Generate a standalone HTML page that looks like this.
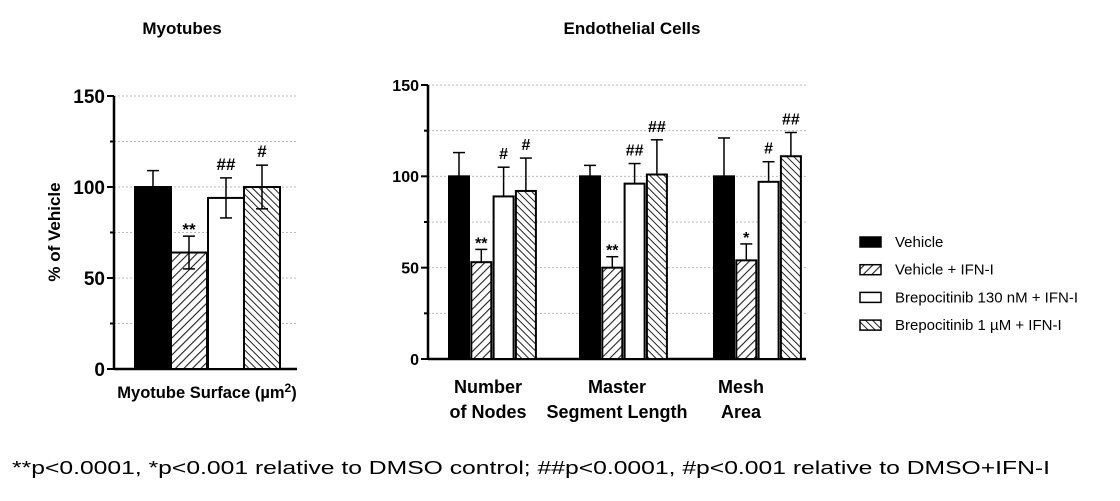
<!DOCTYPE html>
<html><head><meta charset="utf-8"><style>
body{margin:0;background:#fff;width:1120px;height:496px;overflow:hidden;font-family:"Liberation Sans",Arial,sans-serif}
</style></head><body>
<svg id="svg" width="1120" height="496" xmlns="http://www.w3.org/2000/svg">
<defs>
<pattern id="hatchR" patternUnits="userSpaceOnUse" width="6" height="6" patternTransform="rotate(45)"><rect width="6" height="6" fill="#fff"/><line x1="0" y1="0" x2="0" y2="6" stroke="#222" stroke-width="2.2"/></pattern>
<pattern id="hatchL" patternUnits="userSpaceOnUse" width="5" height="5" patternTransform="rotate(-45)"><rect width="5" height="5" fill="#fff"/><line x1="0" y1="0" x2="0" y2="5" stroke="#222" stroke-width="2"/></pattern>
</defs>
<text x="182" y="34" text-anchor="middle" font-weight="bold" font-size="17">Myotubes</text>
<text x="632" y="34" text-anchor="middle" font-weight="bold" font-size="17">Endothelial Cells</text>
<text x="60" y="232" text-anchor="middle" font-weight="bold" font-size="17" transform="rotate(-90 60 232)">% of Vehicle</text>
<text x="207" y="398" text-anchor="middle" font-weight="bold" font-size="16.5">Myotube Surface (µm<tspan dy="-6" font-size="12">2</tspan><tspan dy="6">)</tspan></text>
<text x="12" y="474" font-size="18" textLength="1038" lengthAdjust="spacingAndGlyphs">**p&lt;0.0001, *p&lt;0.001 relative to DMSO control; ##p&lt;0.0001, #p&lt;0.001 relative to DMSO+IFN-I</text>
<g id="g"></g>
</svg>
<script>
const seriesNames=["Vehicle","Vehicle + IFN-I","Brepocitinib 130 nM + IFN-I","Brepocitinib 1 µM + IFN-I"];
const fills=["#000","url(#hatchR)","#fff","url(#hatchL)"];
const yTicks=[0,50,100,150];
const myoValues=[100,64,94,100];
const myoErrLo=[0,9,11,12];
const myoErrHi=[9,9,11,12];
const myoSig=["","**","##","#"];
const endoCategories=[["Number","of Nodes"],["Master","Segment Length"],["Mesh","Area"]];
const endoValues=[[100,53,89,92],[100,50,96,101],[100,54,97,111]];
const endoErr=[[13,7,16,18],[6,6,11,19],[21,9,11,13]];
const endoSig=[["","**","#","#"],["","**","##","##"],["","*","#","##"]];
const g=document.getElementById('g');
const NS="http://www.w3.org/2000/svg";
function mk(t,a,txt){const e=document.createElementNS(NS,t);for(const k in a)e.setAttribute(k,a[k]);if(txt!==undefined)e.textContent=txt;g.appendChild(e);return e;}
function axes(x0,x1,yTop,yBot,fs,tag){
  const y=v=>yBot-(v/150)*(yBot-yTop);
  for(let v=25;v<=150;v+=25){const l=mk('line',{x1:x0,x2:x1,y1:y(v),y2:y(v),stroke:'#bbb','stroke-dasharray':'2,2','stroke-width':1});
  }
  const ax=mk('line',{x1:x0,x2:x0,y1:yTop,y2:yBot,stroke:'#000','stroke-width':2.5});
  
  const bx=mk('line',{x1:x0,x2:x1,y1:yBot,y2:yBot,stroke:'#000','stroke-width':2.5});
  
  for(let v=0;v<=150;v+=25){const major=v%50===0;mk('line',{x1:x0-(major?7:4),x2:x0,y1:y(v),y2:y(v),stroke:'#000','stroke-width':2});}
  yTicks.forEach(v=>{const t=mk('text',{x:x0-9,y:y(v)+fs*0.36,'text-anchor':'end','font-weight':'bold','font-size':fs},v);
  });
  return y;
}
function bar(x,w,v,lo,hi,s,i,y,tag,fsSig){
  const yt=y(v),yb=y(0);
  const r=mk('rect',{x:x,y:yt,width:w,height:yb-yt,fill:fills[i],stroke:'#000','stroke-width':2});
  
  const cx=x+w/2;
  const ytop=y(v+hi),ylo=y(v-lo);
  const eb=mk('line',{x1:cx,x2:cx,y1:ytop,y2:lo>0?ylo:yt,stroke:'#000','stroke-width':1.5});
  
  mk('line',{x1:cx-6,x2:cx+6,y1:ytop,y2:ytop,stroke:'#000','stroke-width':1.5});
  if(lo>0)mk('line',{x1:cx-6,x2:cx+6,y1:ylo,y2:ylo,stroke:'#000','stroke-width':1.5});
  if(s){const t=mk('text',{x:cx,y:ytop-(s.startsWith('*')?1:8),'text-anchor':'middle','font-weight':'bold','font-size':fsSig},s);
  }
}
const yL=axes(114,297,96,369,19,'myotube');
const lx=[135,171,208,244];
myoValues.forEach((v,i)=>bar(lx[i],36,v,myoErrLo[i],myoErrHi[i],myoSig[i],i,yL,'myotube-'+i,17));
const yR=axes(428,806,85,359,16,'endothelial');
const gStart=[449,580,714],bw=20,step=22.3;
endoValues.forEach((vals,gi)=>{
  vals.forEach((v,i)=>bar(gStart[gi]+i*step,bw,v,0,endoErr[gi][i],endoSig[gi][i],i,yR,'endo-'+gi+'-'+i,16));
  endoCategories[gi].forEach((ln,k)=>{const t=mk('text',{x:[488,617,741][gi],y:393+k*25,'text-anchor':'middle','font-weight':'bold','font-size':18},ln);
  });
});
seriesNames.forEach((n,i)=>{const yy=242+i*27.7;
  const r=mk('rect',{x:860,y:yy-5,width:21,height:10,fill:fills[i],stroke:'#000','stroke-width':1.5});
  
  const t=mk('text',{x:895,y:yy+5,'font-size':15},n);
  });
</script>
</body></html>
